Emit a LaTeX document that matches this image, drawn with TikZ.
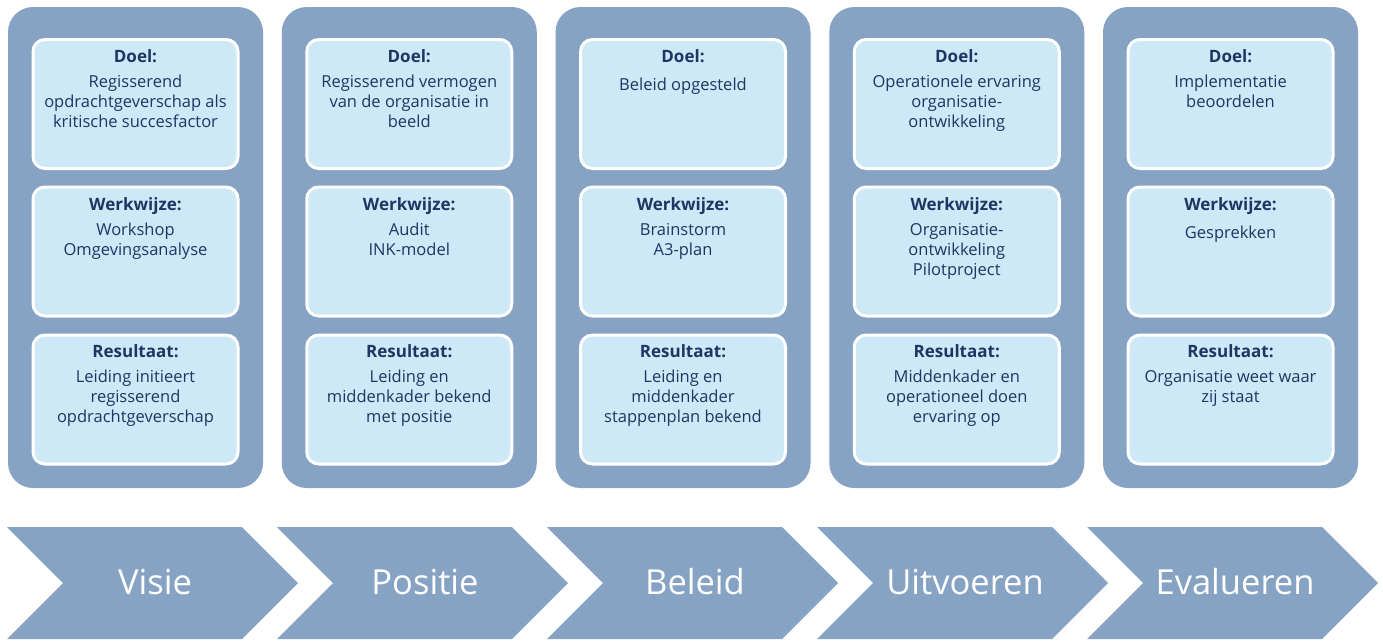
\documentclass[tikz,border=0pt]{standalone}
\usepackage{fontspec}
\setmainfont{Open Sans}
\newfontfamily\chevfont{Open Sans}

\definecolor{phaseblue}{RGB}{135,163,195}
\definecolor{cellblue}{RGB}{205,232,246}
\definecolor{inkblue}{RGB}{30,54,98}

\tikzset{
  phasebox/.style={fill=phaseblue, draw=none, rounded corners=25pt,
    minimum width=255pt, minimum height=481pt, inner sep=0pt},
  cell/.style={fill=cellblue, draw=white, line width=3pt, rounded corners=12pt,
    minimum width=205pt, minimum height=129pt, inner sep=0pt},
  head/.style={font=\bfseries\fontsize{17}{20}\selectfont, text=inkblue, anchor=base, inner sep=0pt},
  % the first line gets a fixed height so that the north anchor sits 15pt above its baseline
  body/.style={font=\fontsize{16.5}{20}\selectfont, text=inkblue, align=center, anchor=north,
    inner sep=0pt, execute at begin node={\rule{0pt}{15pt}}},
  chevshape/.style={fill=phaseblue, draw=none},
  chevlabel/.style={font=\chevfont\fontsize{34.5}{40}\selectfont, text=white, anchor=base, inner sep=0pt}
}

% one phase column: index, goal, method, result
\newcommand\phasecolumn[4]{%
  \pgfmathsetmacro\colx{135.5+273.75*#1}%
  \node[phasebox] (col#1) at (\colx,247.5) {};
  \node[cell] (doel#1) at (\colx,104) {};
  \node[cell] (werk#1) at (\colx,251.5) {};
  \node[cell] (res#1) at (\colx,399.5) {};
  \node[head] (doelh#1) at (\colx,62) {Doel:};
  \node[body] (doelt#1) at (\colx,75) {#2};
  \node[head] (werkh#1) at (\colx,210) {Werkwijze:};
  \node[body] (werkt#1) at (\colx,223) {#3};
  \node[head] (resh#1) at (\colx,357) {Resultaat:};
  \node[body] (rest#1) at (\colx,370) {#4};
}

% one chevron of the process arrow: index, label
\newcommand\chevronstep[2]{%
  \pgfmathsetmacro\chx{7+270*#1}%
  \fill[chevshape] (\chx,527) -- ++(235,0) -- ++(56,56) -- ++(-56,56)
    -- ++(-235,0) -- ++(56,-56) -- cycle;
  \node[chevlabel] (step#1) at (\chx+148,594) {#2};
}

\begin{document}
\begin{tikzpicture}[x=1pt,y=-1pt]
\useasboundingbox (0,0) rectangle (1383,640);

\phasecolumn{0}{Regisserend\\opdrachtgeverschap als\\kritische succesfactor}
  {Workshop\\Omgevingsanalyse}
  {Leiding initieert\\regisserend\\opdrachtgeverschap}
\phasecolumn{1}{Regisserend vermogen\\van de organisatie in\\beeld}
  {Audit\\INK-model}
  {Leiding en\\middenkader bekend\\met positie}
\phasecolumn{2}{Beleid opgesteld}
  {Brainstorm\\A3-plan}
  {Leiding en\\middenkader\\stappenplan bekend}
\phasecolumn{3}{Operationele ervaring\\organisatie-\\ontwikkeling}
  {Organisatie-\\ontwikkeling\\Pilotproject}
  {Middenkader en\\operationeel doen\\ervaring op}
\phasecolumn{4}{Implementatie\\beoordelen}
  {Gesprekken}
  {Organisatie weet waar\\zij staat}

\chevronstep{0}{Visie}
\chevronstep{1}{Positie}
\chevronstep{2}{Beleid}
\chevronstep{3}{Uitvoeren}
\chevronstep{4}{Evalueren}
\end{tikzpicture}
\end{document}
